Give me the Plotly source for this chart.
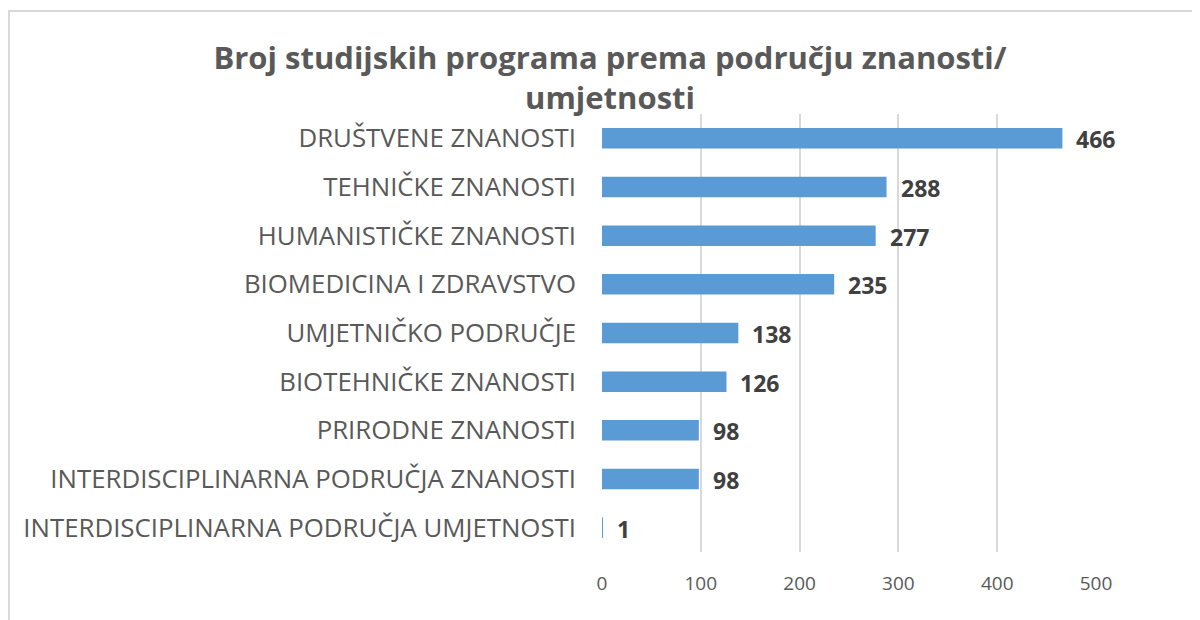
import plotly.graph_objects as go

categories = [
    "DRUŠTVENE ZNANOSTI",
    "TEHNIČKE ZNANOSTI",
    "HUMANISTIČKE ZNANOSTI",
    "BIOMEDICINA I ZDRAVSTVO",
    "UMJETNIČKO PODRUČJE",
    "BIOTEHNIČKE ZNANOSTI",
    "PRIRODNE ZNANOSTI",
    "INTERDISCIPLINARNA PODRUČJA ZNANOSTI",
    "INTERDISCIPLINARNA PODRUČJA UMJETNOSTI",
]
values = [466, 288, 277, 235, 138, 126, 98, 98, 1]
x_ticks = [0, 100, 200, 300, 400, 500]
title_text = "Broj studijskih programa prema području znanosti/<br>umjetnosti"

FONT = "Open Sans"
GRAY = "#595959"

W, H = 1192, 612
L, R, T, B = 594, 104, 106, 68
PW, PH = W - L - R, H - T - B

fig = go.Figure()
fig.add_trace(go.Bar(
    y=categories,
    x=values,
    orientation="h",
    marker=dict(color="#5B9BD5", line=dict(width=0)),
    hoverinfo="x+y",
))

annotations = []
for c, v in zip(categories, values):
    annotations.append(dict(
        x=v, y=c, xref="x", yref="y", text=str(v), showarrow=False,
        xanchor="left", yanchor="middle", xshift=12, yshift=-1,
        font=dict(family=FONT, size=23, color="#404040", weight="bold"),
    ))

fig.update_layout(
    width=W, height=H,
    paper_bgcolor="white", plot_bgcolor="white",
    margin=dict(l=L, r=R, t=T, b=B),
    bargap=0.58,
    showlegend=False,
    title=dict(
        text=title_text, x=602 / W, xanchor="center",
        y=1 - 61 / H, yanchor="top",
        font=dict(family=FONT, size=31, color=GRAY, weight="bold"),
    ),
    xaxis=dict(
        range=[0, 500], tickvals=x_ticks, showgrid=True, gridcolor="#D9D9D9",
        gridwidth=2, zeroline=False, showline=False,
        tickfont=dict(family=FONT, size=19, color=GRAY), ticks="",
        ticklabelstandoff=18,
    ),
    yaxis=dict(
        categoryorder="array", categoryarray=categories[::-1],
        tickfont=dict(family=FONT, size=25.8, color=GRAY),
        ticks="", showgrid=False, showline=False, ticklabelstandoff=25,
    ),
    annotations=annotations,
    shapes=[dict(
        type="rect", xref="paper", yref="paper",
        x0=(1 - L) / PW, x1=1.4, y0=-0.3, y1=1 + (T - 3) / PH,
        line=dict(color="#D9D9D9", width=2), fillcolor="rgba(0,0,0,0)", layer="below",
    )],
)

fig.write_html("out.html")
